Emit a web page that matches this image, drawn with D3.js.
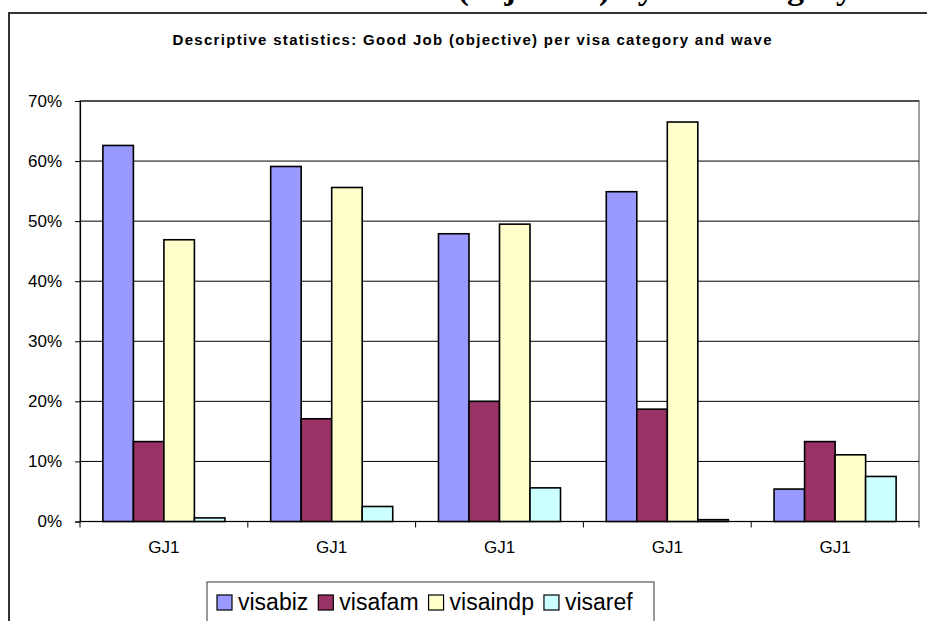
<!DOCTYPE html>
<html>
<head>
<meta charset="utf-8">
<script src="https://cdn.jsdelivr.net/npm/d3@7"></script>
<style>
  html, body { margin: 0; padding: 0; background: #fff; }
  svg { display: block; }
</style>
</head>
<body>
<script>
// ---- data ----
const categories = ["GJ1", "GJ1", "GJ1", "GJ1", "GJ1"];
const seriesNames = ["visabiz", "visafam", "visaindp", "visaref"];
const visabiz  = [0.626, 0.591, 0.479, 0.549, 0.054];
const visafam  = [0.133, 0.171, 0.200, 0.187, 0.133];
const visaindp = [0.469, 0.556, 0.495, 0.665, 0.111];
const visaref  = [0.006, 0.025, 0.056, 0.003, 0.075];
const seriesColors = ["#9999FF", "#993366", "#FFFFCC", "#CCFFFF"];
const yTicks = [0, 0.1, 0.2, 0.3, 0.4, 0.5, 0.6, 0.7];
const chartTitle = "Descriptive statistics: Good Job (objective) per visa category and wave";
const pageHeading = "Good Job (objective) by visa category";

const seriesValues = [visabiz, visafam, visaindp, visaref];

const W = 927, H = 621;
const svg = d3.select("body").append("svg").attr("width", W).attr("height", H);

// cut-off heading above the chart (only descenders are visible in the reference)
svg.append("text")
  .attr("x", 853).attr("y", -1)
  .attr("text-anchor", "end")
  .attr("font-family", "'Liberation Serif', 'Times New Roman', serif")
  .attr("font-weight", "bold")
  .attr("font-size", 34)
  .attr("fill", "#000")
  .text(pageHeading);

// chart frame
svg.append("rect")
  .attr("x", 9).attr("y", 13)
  .attr("width", W + 20).attr("height", H + 20)
  .attr("fill", "#fff")
  .attr("stroke", "#333").attr("stroke-width", 2);

// title
svg.append("text")
  .attr("x", 472).attr("y", 45)
  .attr("text-anchor", "middle")
  .attr("font-family", "'Liberation Sans', Arial, sans-serif")
  .attr("font-weight", "bold")
  .attr("font-size", 15)
  .attr("textLength", 599)
  .attr("lengthAdjust", "spacing")
  .text(chartTitle);

// scales
const plotL = 80, plotR = 919, plotT = 101, plotB = 521.5;
const x0 = d3.scaleBand().domain(d3.range(categories.length)).range([plotL, plotR]).paddingInner(0).paddingOuter(0);
const x1 = d3.scaleBand().domain(seriesNames).range([0, x0.bandwidth()]).paddingInner(0).paddingOuter(0.75);
const y = d3.scaleLinear().domain([0, 0.7]).range([plotB, plotT]);

// plot area border
svg.append("rect")
  .attr("x", plotL).attr("y", plotT)
  .attr("width", plotR - plotL).attr("height", plotB - plotT)
  .attr("fill", "none").attr("stroke", "#808080").attr("stroke-width", 1.5);

// gridlines
svg.append("g").selectAll("line").data(yTicks.filter(d => d > 0)).join("line")
  .attr("x1", plotL).attr("x2", plotR)
  .attr("y1", d => y(d)).attr("y2", d => y(d))
  .attr("stroke", "#000").attr("stroke-width", 1);

// bars
const groups = svg.append("g").selectAll("g").data(categories.map((c, i) => i)).join("g")
  .attr("transform", i => `translate(${x0(i)},0)`);
groups.selectAll("rect")
  .data(i => seriesNames.map((s, k) => ({ s, k, v: seriesValues[k][i] })))
  .join("rect")
  .attr("x", d => x1(d.s))
  .attr("width", x1.bandwidth())
  .attr("y", d => y(d.v))
  .attr("height", d => y(0) - y(d.v))
  .attr("fill", d => seriesColors[d.k])
  .attr("stroke", "#000").attr("stroke-width", 1.6);

// y axis
const yAxis = d3.axisLeft(y).tickValues(yTicks).tickFormat(d3.format(".0%")).tickSize(5).tickPadding(13);
const gy = svg.append("g").attr("transform", `translate(${plotL},0)`).call(yAxis);
gy.select(".domain").attr("stroke", "#000").attr("stroke-width", 1.2);
gy.selectAll(".tick line").attr("stroke", "#000");
gy.selectAll("text")
  .attr("font-family", "'Liberation Sans', Arial, sans-serif")
  .attr("font-size", 17).attr("fill", "#000");

// x axis
const xLine = svg.append("g");
xLine.append("line").attr("x1", plotL).attr("x2", plotR).attr("y1", y(0)).attr("y2", y(0))
  .attr("stroke", "#000").attr("stroke-width", 1.2);
const boundaries = d3.range(categories.length + 1).map(i => i < categories.length ? x0(i) : plotR);
xLine.selectAll("line.tk").data(boundaries).join("line").attr("class", "tk")
  .attr("x1", d => d).attr("x2", d => d)
  .attr("y1", y(0)).attr("y2", y(0) + 6)
  .attr("stroke", "#000");
xLine.selectAll("text").data(categories).join("text")
  .attr("x", (d, i) => x0(i) + x0.bandwidth() / 2)
  .attr("y", 553)
  .attr("text-anchor", "middle")
  .attr("font-family", "'Liberation Sans', Arial, sans-serif")
  .attr("font-size", 17).attr("fill", "#000")
  .text(d => d);

// legend
const leg = svg.append("g");
leg.append("rect")
  .attr("x", 207).attr("y", 582)
  .attr("width", 447).attr("height", 60)
  .attr("fill", "#fff").attr("stroke", "#555").attr("stroke-width", 1.2);
let lx = 217;
seriesNames.forEach((s, k) => {
  leg.append("rect")
    .attr("x", lx).attr("y", 595)
    .attr("width", 15).attr("height", 15)
    .attr("fill", seriesColors[k]).attr("stroke", "#000").attr("stroke-width", 1.2);
  const t = leg.append("text")
    .attr("x", lx + 21).attr("y", 610)
    .attr("font-family", "'Liberation Sans', Arial, sans-serif")
    .attr("font-size", 23).attr("fill", "#000")
    .text(s);
  lx += 21 + t.node().getComputedTextLength() + 10;
});
</script>
</body>
</html>
